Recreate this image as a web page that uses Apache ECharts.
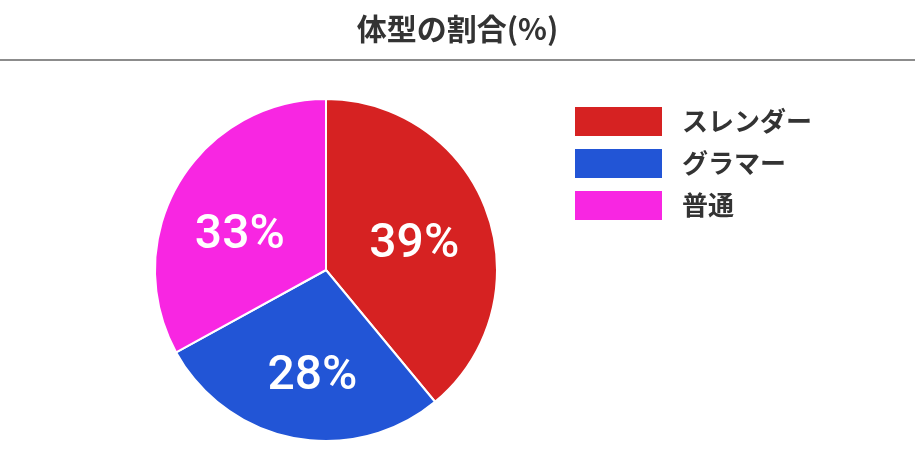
<!DOCTYPE html>
<html>
<head>
<meta charset="utf-8">
<script src="https://cdn.jsdelivr.net/npm/echarts@6/dist/echarts.min.js"></script>
<style>html,body{margin:0;padding:0;background:#fff}#c{width:915px;height:450px}</style>
</head>
<body>
<div id="c"></div>
<script>
const titleText = '体型の割合(%)';
const categories = ['スレンダー', 'グラマー', '普通'];
const values = [39, 28, 33];
const colors = ['#D62222', '#2255D6', '#F826E2'];
// small label nudges (style only)
const labelNudge = [[5, 5], [3, 20], [-10, 11]];

const chart = echarts.init(document.getElementById('c'));
chart.setOption({
  backgroundColor: '#fff',
  animation: false,
  title: {
    text: titleText,
    left: 'center',
    top: 9,
    textStyle: { fontSize: 30, fontWeight: 'bold', color: '#333', fontFamily: '"Noto Sans CJK JP", sans-serif' }
  },
  graphic: [{
    type: 'line',
    shape: { x1: 0, y1: 60, x2: 915, y2: 60 },
    style: { stroke: '#666', lineWidth: 1.5 }
  }],
  legend: {
    orient: 'vertical',
    left: 568,
    top: 100,
    itemWidth: 89,
    itemHeight: 31,
    itemGap: 9,
    icon: 'rect',
    data: categories,
    textStyle: { fontSize: 26, lineHeight: 31, fontWeight: 'bold', color: '#333', fontFamily: '"Noto Sans CJK JP", sans-serif', padding: [0, 0, 0, 14] }
  },
  series: [{
    type: 'pie',
    center: [326, 270],
    radius: 171,
    startAngle: 90,
    clockwise: true,
    data: categories.map((n, i) => ({ name: n, value: values[i], itemStyle: { color: colors[i] } })),
    itemStyle: { borderColor: '#fff', borderWidth: 2 },
    label: {
      position: 'inside',
      formatter: p => p.value + '%',
      color: '#fff',
      fontSize: 48,
      fontWeight: 500,
      fontFamily: 'Roboto, sans-serif'
    },
    labelLayout: p => ({ dx: labelNudge[p.dataIndex][0], dy: labelNudge[p.dataIndex][1] }),
    labelLine: { show: false }
  }]
});
</script>
</body>
</html>
